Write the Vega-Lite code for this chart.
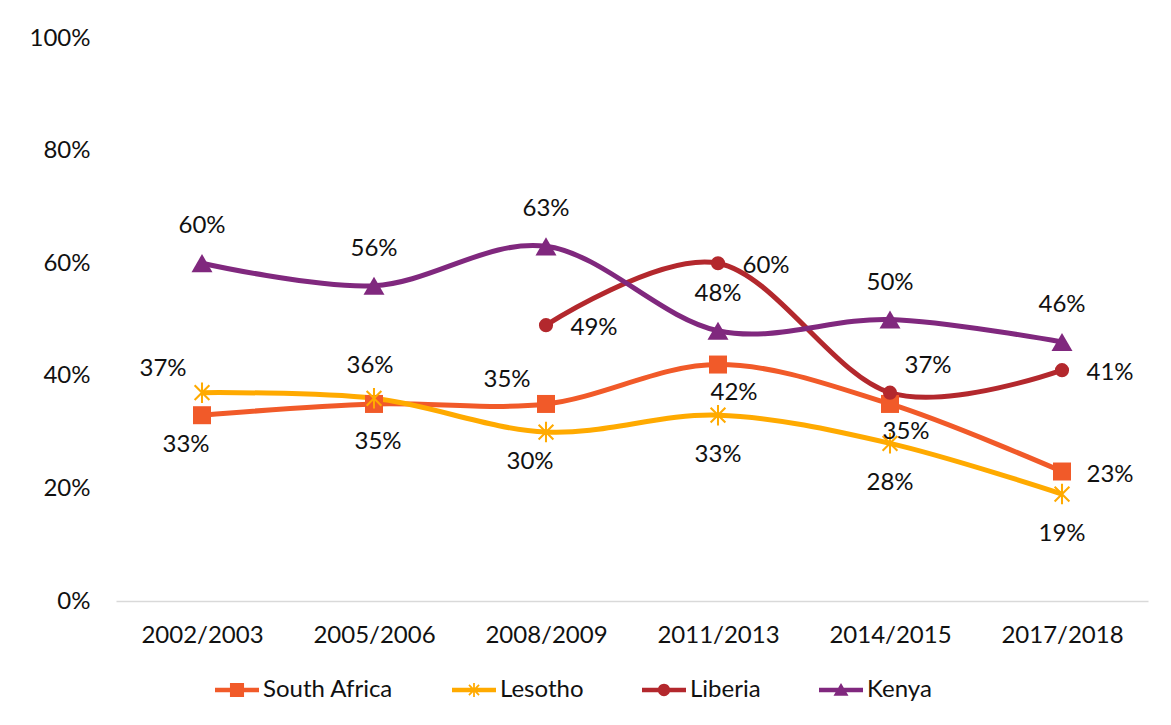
{
  "$schema": "https://vega.github.io/schema/vega-lite/v6.json",
  "width": 1032,
  "height": 563,
  "autosize": {"type": "none"},
  "padding": {"left": 116, "top": 38, "right": 23, "bottom": 124},
  "background": "white",
  "config": {
    "view": {"stroke": null},
    "font": "Lato",
    "text": {"font": "Lato", "fontSize": 24, "color": "#111111", "baseline": "middle", "align": "center"}
  },
  "data": {
    "values": [
      {"year": "2002/2003", "series": "South Africa", "value": 0.33},
      {"year": "2005/2006", "series": "South Africa", "value": 0.35},
      {"year": "2008/2009", "series": "South Africa", "value": 0.35},
      {"year": "2011/2013", "series": "South Africa", "value": 0.42},
      {"year": "2014/2015", "series": "South Africa", "value": 0.35},
      {"year": "2017/2018", "series": "South Africa", "value": 0.23},
      {"year": "2002/2003", "series": "Lesotho", "value": 0.37},
      {"year": "2005/2006", "series": "Lesotho", "value": 0.36},
      {"year": "2008/2009", "series": "Lesotho", "value": 0.30},
      {"year": "2011/2013", "series": "Lesotho", "value": 0.33},
      {"year": "2014/2015", "series": "Lesotho", "value": 0.28},
      {"year": "2017/2018", "series": "Lesotho", "value": 0.19},
      {"year": "2008/2009", "series": "Liberia", "value": 0.49},
      {"year": "2011/2013", "series": "Liberia", "value": 0.60},
      {"year": "2014/2015", "series": "Liberia", "value": 0.37},
      {"year": "2017/2018", "series": "Liberia", "value": 0.41},
      {"year": "2002/2003", "series": "Kenya", "value": 0.60},
      {"year": "2005/2006", "series": "Kenya", "value": 0.56},
      {"year": "2008/2009", "series": "Kenya", "value": 0.63},
      {"year": "2011/2013", "series": "Kenya", "value": 0.48},
      {"year": "2014/2015", "series": "Kenya", "value": 0.50},
      {"year": "2017/2018", "series": "Kenya", "value": 0.46}
    ]
  },
  "encoding": {
    "x": {
      "field": "year",
      "type": "nominal",
      "axis": {
        "title": null,
        "labelAngle": 0,
        "ticks": false,
        "domainColor": "#D9D9D9",
        "domainWidth": 1.5,
        "labelFont": "Lato",
        "labelFontSize": 24,
        "labelColor": "#111111",
        "labelPadding": 22
      }
    },
    "y": {
      "field": "value",
      "type": "quantitative",
      "scale": {"domain": [0, 1]},
      "axis": {
        "title": null,
        "values": [0, 0.2, 0.4, 0.6, 0.8, 1],
        "format": ".0%",
        "ticks": false,
        "domain": false,
        "grid": false,
        "labelFont": "Lato",
        "labelFontSize": 24,
        "labelColor": "#111111",
        "labelPadding": 26
      }
    },
    "color": {
      "field": "series",
      "type": "nominal",
      "scale": {
        "domain": ["South Africa", "Lesotho", "Liberia", "Kenya"],
        "range": ["#F15A29", "#FFAA00", "#B3282D", "#80287E"]
      },
      "legend": {
        "title": null,
        "orient": "none",
        "legendX": 99,
        "legendY": 630,
        "direction": "horizontal",
        "labelFont": "Lato",
        "labelFontSize": 24,
        "labelColor": "#111111",
        "labelOffset": 4,
        "columnPadding": 58,
        "symbolSize": 1936,
        "symbolStrokeWidth": 0,
        "symbolOpacity": 1,
        "symbolType": "M-1,-0.1L1,-0.1L1,0.1L-1,0.1Z",
        "encode": {
          "symbols": {
            "update": {
              "shape": {"signal": "datum.value === 'South Africa' ? 'M-1,-0.1L1,-0.1L1,0.1L-1,0.1ZM-0.32,-0.32L0.32,-0.32L0.32,0.32L-0.32,0.32Z' : datum.value === 'Lesotho' ? 'M-1,-0.1L1,-0.1L1,0.1L-1,0.1ZM-0.04,-0.32L0.04,-0.32L0.04,0.32L-0.04,0.32ZM-0.202,-0.258L0.258,0.202L0.202,0.258L-0.258,-0.202ZM0.258,-0.202L-0.202,0.258L-0.258,0.202L0.202,-0.258Z' : datum.value === 'Liberia' ? 'M-1,-0.1L1,-0.1L1,0.1L-1,0.1ZM0.28,0A0.28,0.28 0 1 1 -0.28,0A0.28,0.28 0 1 1 0.28,0Z' : 'M-1,-0.1L1,-0.1L1,0.1L-1,0.1ZM0,-0.32L0.34,0.26L-0.34,0.26Z'"},
              "size": {"value": 1936},
              "fill": {"scale": "color", "field": "value"},
              "stroke": {"value": "transparent"},
              "strokeWidth": {"value": 0},
              "opacity": {"value": 1}
            }
          }
        }
      }
    }
  },
  "layer": [
    {
      "mark": {"type": "line", "interpolate": "cardinal", "strokeWidth": 5}
    },
    {
      "transform": [{"filter": "datum.series === 'South Africa'"}],
      "mark": {"type": "point", "filled": true, "opacity": 1, "shape": "square", "size": 324}
    },
    {
      "transform": [{"filter": "datum.series === 'Lesotho'"}],
      "mark": {"type": "point", "filled": true, "opacity": 1, "size": 420, "shape": "M-0.1,-1L0.1,-1L0.1,1L-0.1,1ZM-0.649,-0.791L0.791,0.649L0.649,0.791L-0.791,-0.649ZM0.791,-0.649L-0.649,0.791L-0.791,0.649L0.649,-0.791Z"}
    },
    {
      "transform": [{"filter": "datum.series === 'Liberia'"}],
      "mark": {"type": "point", "filled": true, "opacity": 1, "shape": "circle", "size": 200}
    },
    {
      "transform": [{"filter": "datum.series === 'Kenya'"}],
      "mark": {"type": "point", "filled": true, "opacity": 1, "shape": "triangle-up", "size": 440}
    },
    {
      "transform": [{"filter": "datum.series === 'Kenya'"}],
      "mark": {"type": "text", "dy": -37},
      "encoding": {"color": {"value": "#111111"}, "text": {"field": "value", "type": "quantitative", "format": ".0%"}}
    },
    {
      "transform": [{"filter": "datum.series === 'Lesotho' && indexof(['2011/2013','2014/2015','2017/2018'], datum.year) >= 0"}],
      "mark": {"type": "text", "dy": 40},
      "encoding": {"color": {"value": "#111111"}, "text": {"field": "value", "type": "quantitative", "format": ".0%"}}
    },
    {
      "transform": [{"filter": "(datum.series === 'Lesotho' && datum.year === '2008/2009') || (datum.series === 'South Africa' && datum.year === '2002/2003')"}],
      "mark": {"type": "text", "dx": -16, "dy": 30},
      "encoding": {"color": {"value": "#111111"}, "text": {"field": "value", "type": "quantitative", "format": ".0%"}}
    },
    {
      "transform": [{"filter": "datum.series === 'South Africa' && (datum.year === '2011/2013' || datum.year === '2014/2015')"}],
      "mark": {"type": "text", "dx": 16, "dy": 28},
      "encoding": {"color": {"value": "#111111"}, "text": {"field": "value", "type": "quantitative", "format": ".0%"}}
    },
    {
      "transform": [{"filter": "datum.series === 'South Africa' && datum.year === '2005/2006'"}],
      "mark": {"type": "text", "dx": 4, "dy": 38},
      "encoding": {"color": {"value": "#111111"}, "text": {"field": "value", "type": "quantitative", "format": ".0%"}}
    },
    {
      "transform": [{"filter": "(datum.series === 'Liberia' && datum.year !== '2014/2015') || (datum.series === 'South Africa' && datum.year === '2017/2018')"}],
      "mark": {"type": "text", "dx": 48, "dy": 3},
      "encoding": {"color": {"value": "#111111"}, "text": {"field": "value", "type": "quantitative", "format": ".0%"}}
    },
    {
      "transform": [{"filter": "(datum.series === 'Lesotho' && datum.year === '2002/2003') || (datum.series === 'South Africa' && datum.year === '2008/2009')"}],
      "mark": {"type": "text", "dx": -39, "dy": -24},
      "encoding": {"color": {"value": "#111111"}, "text": {"field": "value", "type": "quantitative", "format": ".0%"}}
    },
    {
      "transform": [{"filter": "datum.series === 'Liberia' && datum.year === '2014/2015'"}],
      "mark": {"type": "text", "dx": 38, "dy": -27},
      "encoding": {"color": {"value": "#111111"}, "text": {"field": "value", "type": "quantitative", "format": ".0%"}}
    },
    {
      "transform": [{"filter": "datum.series === 'Lesotho' && datum.year === '2005/2006'"}],
      "mark": {"type": "text", "dx": -4, "dy": -32},
      "encoding": {"color": {"value": "#111111"}, "text": {"field": "value", "type": "quantitative", "format": ".0%"}}
    }
  ]
}
